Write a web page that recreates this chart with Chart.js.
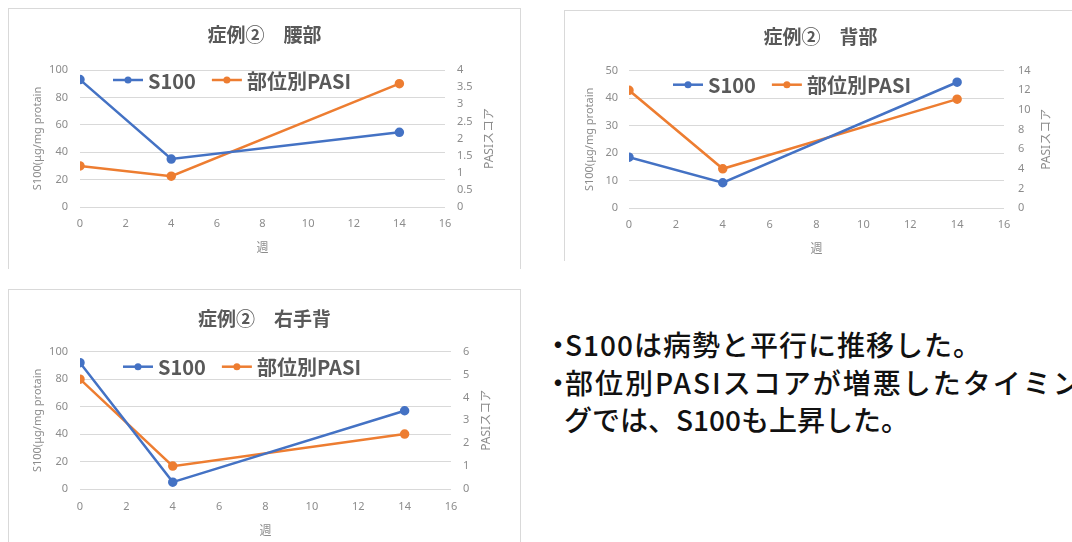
<!DOCTYPE html>
<html>
<head>
<meta charset="utf-8">
<script src="https://cdn.jsdelivr.net/npm/chart.js@4.4.1/dist/chart.umd.min.js"></script>
<style>
  html, body { margin:0; padding:0; background:#fff; width:1072px; height:542px; overflow:hidden; position:relative; }
  .panel { position:absolute; border:1px solid #d9d9d9; border-bottom:none; background:#fff; overflow:hidden; }
  .panel canvas { position:absolute; left:0; top:0; }
  .note { position:absolute; white-space:nowrap; font-family:"Noto Sans CJK JP", sans-serif; font-weight:500;
          font-size:28px; line-height:36px; color:#111; letter-spacing:1px; }
  .bul { display:inline-block; width:12px; overflow:visible; white-space:nowrap; }
  .bul span { display:inline-block; margin-left:-9px; letter-spacing:0; }
</style>
</head>
<body>
<div class="panel" id="p1" style="left:8px;top:8px;width:511px;height:260px;"><canvas id="c1" width="511" height="251"></canvas></div>
<div class="panel" id="p2" style="left:564px;top:10px;width:511px;height:250px;"><canvas id="c2" width="511" height="249"></canvas></div>
<div class="panel" id="p3" style="left:8px;top:289px;width:511px;height:260px;"><canvas id="c3" width="511" height="252"></canvas></div>

<div class="note" style="left:553px;top:326px;"><span class="bul"><span>・</span></span>S100は病勢と平行に推移した。</div>
<div class="note" style="left:553px;top:364px;letter-spacing:2px;"><span class="bul"><span>・</span></span>部位別PASIスコアが増悪したタイミン</div>
<div class="note" style="left:564px;top:401px;letter-spacing:0;">グでは、S100も上昇した。</div>

<script>
// ---- data ----
const weeks = [0, 4, 14];
const seriesLabels = ['S100', '部位別PASI'];
const chartTitles = ['症例②　腰部', '症例②　背部', '症例②　右手背'];
const s100Lumbar = [93, 35, 54.5];
const pasiLumbar = [1.2, 0.9, 3.6];
const s100Back = [18.5, 9.2, 45.8];
const pasiBack = [12, 4, 11.1];
const s100Hand = [92, 5, 57];
const pasiHand = [4.8, 1, 2.4];
const xTitle = '週';
const yTitle = 'S100(μg/mg protain';
const y1Title = 'PASIスコア';
const xMax = 16, xStep = 2;
const leftMax = [100, 50, 100];
const leftStep = [20, 10, 20];
const rightMax = [4, 14, 6];
const rightStep = [0.5, 2, 1];

// ---- styling ----
const BLUE = '#4472C4', ORANGE = '#ED7D31';
const GRID = '#d9d9d9', TICK = '#8c8c8c', TITLE = '#595959';
const LATIN = '"Noto Sans", "Noto Sans CJK JP", sans-serif';
const CJK = '"Noto Sans CJK JP", sans-serif';

const legendInside = {
  id: 'legendInside',
  afterDraw(chart, args, opts) {
    const ctx = chart.ctx, ca = chart.chartArea;
    let x = ca.left + opts.dx;
    const y = ca.top + opts.dy;
    ctx.save();
    ctx.font = 'bold 20px ' + CJK;
    ctx.textBaseline = 'middle';
    ctx.textAlign = 'left';
    chart.data.datasets.forEach(ds => {
      ctx.strokeStyle = ds.borderColor; ctx.lineWidth = 2.5;
      ctx.beginPath(); ctx.moveTo(x, y); ctx.lineTo(x + 30, y); ctx.stroke();
      ctx.fillStyle = ds.borderColor;
      ctx.beginPath(); ctx.arc(x + 15, y, 3.5, 0, Math.PI * 2); ctx.fill();
      x += 35;
      ctx.fillStyle = TITLE;
      ctx.fillText(ds.label, x, y + 1);
      x += ctx.measureText(ds.label).width + 16;
    });
    ctx.restore();
  }
};

const rightTitle = {
  id: 'rightTitle',
  afterDraw(chart, args, opts) {
    const ctx = chart.ctx, ca = chart.chartArea;
    ctx.save();
    ctx.translate(ca.right + opts.dx, (ca.top + ca.bottom) / 2);
    ctx.rotate(-Math.PI / 2);
    ctx.font = '12px ' + LATIN;
    ctx.fillStyle = TICK;
    ctx.textAlign = 'center';
    ctx.textBaseline = 'middle';
    ctx.fillText(opts.text, 0, 0);
    ctx.restore();
  }
};

const plainNum = v => String(+v);

function makeChart(id, idx, s100, pasi, L) {
  const pts = v => weeks.map((w, i) => ({ x: w, y: v[i] }));
  return new Chart(document.getElementById(id), {
    type: 'line',
    data: {
      datasets: [
        { label: seriesLabels[0], data: pts(s100), borderColor: BLUE, backgroundColor: BLUE,
          pointBackgroundColor: BLUE, pointBorderColor: BLUE, borderWidth: 2.5, pointRadius: 3.5, tension: 0, yAxisID: 'y' },
        { label: seriesLabels[1], data: pts(pasi), borderColor: ORANGE, backgroundColor: ORANGE,
          pointBackgroundColor: ORANGE, pointBorderColor: ORANGE, borderWidth: 2.5, pointRadius: 3.5, tension: 0, yAxisID: 'y1' }
      ]
    },
    options: {
      responsive: false, animation: false, devicePixelRatio: 1,
      layout: { padding: 0 },
      plugins: {
        legend: { display: false },
        tooltip: { enabled: false },
        title: { display: true, text: chartTitles[idx], color: TITLE,
                 font: { family: CJK, size: 19, weight: 'bold' },
                 padding: { top: L.tTop, bottom: L.tBot } },
        legendInside: { dx: L.lgX, dy: L.lgY },
        rightTitle: { text: y1Title, dx: L.rtX }
      },
      scales: {
        x: { type: 'linear', min: 0, max: xMax,
             ticks: { stepSize: xStep, color: TICK, font: { family: LATIN, size: 11 }, padding: L.xPad, maxRotation: 0, callback: plainNum },
             grid: { display: false, drawTicks: false }, border: { display: false },
             title: { display: true, text: xTitle, color: TICK, font: { family: CJK, size: 12 }, padding: { top: 0, bottom: L.xtPad } },
             afterFit: s => { s.height = L.xH; } },
        y: { position: 'left', min: 0, max: leftMax[idx],
             ticks: { stepSize: leftStep[idx], color: TICK, font: { family: LATIN, size: 11 }, padding: L.yPad, callback: plainNum },
             grid: { color: GRID, lineWidth: 1, drawTicks: false }, border: { display: false },
             title: { display: true, text: yTitle, color: TICK, font: { family: LATIN, size: 11 }, padding: { top: L.ytPad, bottom: 0 } },
             afterFit: s => { s.width = L.yW; } },
        y1: { position: 'right', min: 0, max: rightMax[idx],
             ticks: { stepSize: rightStep[idx], color: TICK, font: { family: LATIN, size: 11 }, padding: L.y1Pad, callback: plainNum },
             grid: { display: false, drawTicks: false }, border: { display: false },
             afterFit: s => { s.width = L.y1W; } }
      }
    },
    plugins: [legendInside, rightTitle]
  });
}

makeChart('c1', 0, s100Lumbar, pasiLumbar,
  { tTop: 14.6, tBot: 23.6, lgX: 33, lgY: 10, rtX: 45, xPad: 10.4, xtPad: 5.8, xH: 53, yPad: 12, ytPad: 22.4, yW: 71, y1Pad: 12, y1W: 75 });
makeChart('c2', 1, s100Back, pasiBack,
  { tTop: 14.6, tBot: 22.3, lgX: 44, lgY: 14, rtX: 43, xPad: 10.4, xtPad: 4.8, xH: 52, yPad: 11, ytPad: 18.4, yW: 64, y1Pad: 14, y1W: 72 });
makeChart('c3', 2, s100Hand, pasiHand,
  { tTop: 16.9, tBot: 22, lgX: 43, lgY: 15, rtX: 36, xPad: 11, xtPad: 4.8, xH: 53, yPad: 12, ytPad: 22.4, yW: 71, y1Pad: 12, y1W: 69 });
</script>
</body>
</html>
